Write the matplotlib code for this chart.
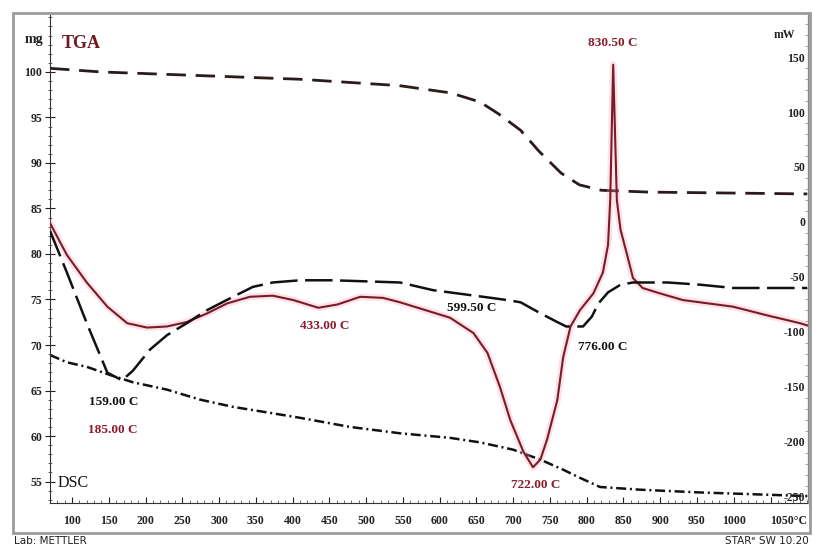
import matplotlib.pyplot as plt
import matplotlib.ticker as mticker
from matplotlib.patches import Rectangle

plt.rcParams["axes.unicode_minus"] = False

# TGA (mg, left axis), dashed
tga_T = [70, 140, 275, 410, 545, 615, 655, 680, 710, 735, 765, 790, 820, 885, 1100]
tga_mg = [100.4, 100.0, 99.6, 99.2, 98.5, 97.7, 96.7, 95.4, 93.6, 91.3, 88.9, 87.6, 87.0, 86.8, 86.6]

# second mass curve (mg, left axis), dash-dot
tg2_T = [70, 93, 120, 152, 183, 229, 274, 319, 365, 410, 478, 546, 614, 655, 700, 737, 768,
         791, 818, 873, 954, 1100]
tg2_mg = [68.9, 68.1, 67.6, 66.7, 65.9, 65.1, 64.0, 63.2, 62.6, 62.0, 61.0, 60.3, 59.8, 59.3,
          58.5, 57.4, 56.3, 55.4, 54.4, 54.1, 53.8, 53.4]

# DSC sample (mW, right axis), solid red
dsc_T = [70, 93, 120, 148, 175, 202, 229, 256, 284, 311, 342, 373, 401, 435, 461, 492, 523,
         546, 614, 646, 665, 682, 696, 714, 727, 737, 746, 760, 768, 778, 791, 809, 822, 829,
         832, 836, 841, 846, 855, 863, 876, 900, 931, 999, 1046, 1090, 1100]
dsc_mW = [-1, -30, -55, -77, -92, -96, -95, -91, -83, -74, -68, -67, -71, -78, -75, -68, -69,
          -73, -87, -101, -119, -150, -180, -209, -223, -216, -198, -162, -123, -95, -80, -65,
          -46, -21, 20, 143, 20, -7, -30, -51, -60, -65, -71, -77, -85, -92, -94]

# DSC reference (mW, right axis), long dashes
ref_T = [70, 93, 120, 148, 168, 183, 206, 229, 256, 284, 319, 346, 373, 410, 455, 501, 546,
         591, 659, 692, 710, 737, 760, 772, 795, 807, 816, 829, 846, 863, 910, 954, 999, 1100]
ref_mW = [-8, -46, -92, -137, -144, -135, -116, -103, -92, -80, -68, -59, -55, -53, -53, -54,
          -55, -62, -68, -71, -73, -83, -91, -95, -95, -86, -74, -64, -57, -55, -55, -57, -60, -60]

notes = ["830.50 C", "433.00 C", "599.50 C", "776.00 C", "159.00 C", "185.00 C", "722.00 C"]
note_T = [836, 444, 644, 822, 157, 156, 730]
note_mW = [163, -95, -78, -114, -164, -189, -239]
note_col = ["#8b1c2c", "#8b1c2c", "#111111", "#111111", "#111111", "#8b1c2c", "#8b1c2c"]

x_ticks = list(range(100, 1051, 50))
mg_ticks = list(range(55, 101, 5))
mw_ticks = list(range(-250, 151, 50))

RED = "#7d1a28"
SERIF = "Liberation Serif"

W, H = 813, 549
fig = plt.figure(figsize=(W / 100, H / 100), dpi=100)
ax = fig.add_axes([50 / W, 1 - 503 / H, 758 / W, 488 / H])
ax2 = ax.twinx()

ax.set_xlim(70, 1101)
ax.set_ylim(52.64, 106.26)
ax2.set_ylim(-255.5, 188.2)

ax.plot(tga_T, tga_mg, color="#2b1b1b", lw=2.0, dashes=(7, 3.5))
ax.plot(tg2_T, tg2_mg, color="#111111", lw=1.8, dashes=(4, 1.5, 0.8, 1.5))
ax2.plot(dsc_T, dsc_mW, color="#f2a5b3", lw=5, alpha=0.3, solid_capstyle="round")
ax2.plot(dsc_T, dsc_mW, color=RED, lw=1.5)
ax2.plot(ref_T, ref_mW, color="#111111", lw=1.8, dashes=(11, 3))

for s, t, m, c in zip(notes, note_T, note_mW, note_col):
    ax2.text(t, m, s, ha="center", va="center", color=c, fontsize=9.5,
             fontweight="bold", family=SERIF)

# axes styling
for a in (ax, ax2):
    a.spines["top"].set_visible(False)
ax.spines["left"].set_color("#333333")
ax.spines["bottom"].set_color("#333333")
ax2.spines["right"].set_color("#888888")
ax2.spines["left"].set_visible(False)
ax2.spines["bottom"].set_visible(False)

ax.set_xticks(x_ticks)
ax.set_xticklabels([str(v) for v in x_ticks[:-1]] + ["1050°C"])
ax.xaxis.set_minor_locator(mticker.MultipleLocator(10))
ax.tick_params(axis="x", which="major", direction="in", length=4, pad=9,
               labelsize=8.5, colors="#222222")
ax.tick_params(axis="x", which="minor", direction="in", length=2, colors="#555555")
ax.get_xticklabels()[-1].set_ha("left")

ax.set_yticks(mg_ticks)
ax.yaxis.set_minor_locator(mticker.MultipleLocator(1))
ax.tick_params(axis="y", which="major", direction="inout", length=7, pad=2,
               labelsize=8.5, colors="#222222")
ax.tick_params(axis="y", which="minor", direction="inout", length=3, colors="#555555")

ax2.set_yticks(mw_ticks)
ax2.yaxis.set_minor_locator(mticker.MultipleLocator(10))
ax2.tick_params(axis="y", which="major", direction="in", length=0, pad=-2,
                labelsize=8.5, colors="#222222")
ax2.tick_params(axis="y", which="minor", direction="in", length=2, colors="#999999")
for lab in ax2.get_yticklabels():
    lab.set_ha("right")

for lab in ax.get_xticklabels() + ax.get_yticklabels() + ax2.get_yticklabels():
    lab.set_family(SERIF)
    lab.set_fontweight("bold")

# frame and captions
fig.patches.append(Rectangle((13 / W, 1 - 533 / H), 797 / W, 520 / H, transform=fig.transFigure,
                             fill=False, edgecolor="#9a9a9a", lw=2))
fig.text(34 / W, 1 - 40 / H, "mg", ha="center", va="center", fontsize=10,
         fontweight="bold", family=SERIF, color="#222222")
fig.text(62 / W, 1 - 43 / H, "TGA", ha="left", va="center", fontsize=13,
         fontweight="bold", family=SERIF, color="#6e1a22")
fig.text(784 / W, 1 - 35 / H, "mW", ha="center", va="center", fontsize=8.5,
         fontweight="bold", family=SERIF, color="#222222")
fig.text(58 / W, 1 - 483 / H, "DSC", ha="left", va="center", fontsize=11.5,
         family=SERIF, color="#111111")
fig.text(14 / W, 1 - 541 / H, "Lab: METTLER", ha="left", va="center", fontsize=7.5,
         family="DejaVu Sans", color="#222222")
fig.text(809 / W, 1 - 541 / H, "STARᵉ SW 10.20", ha="right", va="center", fontsize=7.5,
         family="DejaVu Sans", color="#222222")

fig.savefig("out.png", dpi=100)
